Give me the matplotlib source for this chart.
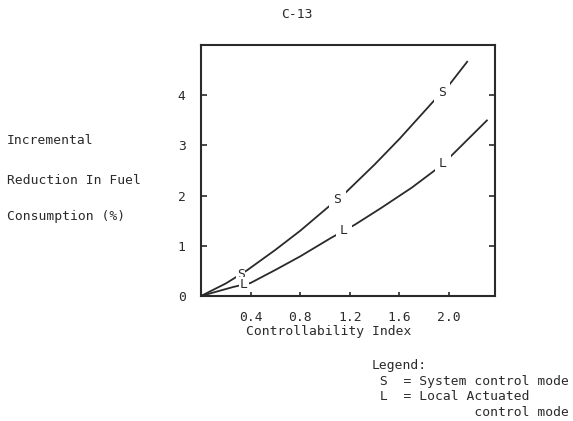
import numpy as np
import matplotlib
matplotlib.use("Agg")
import matplotlib.pyplot as plt

# Controllability index vs. incremental fuel-consumption reduction (%)
s_x = [0.0, 0.20, 0.37, 0.60, 0.80, 1.01, 1.17, 1.40, 1.60, 1.90, 1.98, 2.15]
s_y = [0.0, 0.25, 0.51, 0.92, 1.30, 1.74, 2.07, 2.62, 3.13, 3.95, 4.14, 4.68]

l_x = [0.0, 0.26, 0.40, 0.60, 0.80, 1.05, 1.24, 1.45, 1.70, 1.91, 2.00, 2.31]
l_y = [0.0, 0.18, 0.26, 0.52, 0.79, 1.16, 1.42, 1.75, 2.16, 2.55, 2.75, 3.51]

# where the curve letters sit along each line
s_label_x = [0.32, 1.10, 1.94]
l_label_x = [0.345, 1.15, 1.95]

x_ticks = [0.4, 0.8, 1.2, 1.6, 2.0]
x_tick_labels = ["0.4", "0.8", "1.2", "1.6", "2.0"]
y_ticks = [0, 1, 2, 3, 4]
y_tick_labels = ["0", "1", "2", "3", "4"]

ylabel_lines = ["Incremental", "Reduction In Fuel", "Consumption (%)"]
legend_lines = ["Legend:",
                " S  = System control mode",
                " L  = Local Actuated",
                "             control mode"]

W, H = 573, 421
INK = "#2a2a2a"
MONO = "DejaVu Sans Mono"
FS = 9.4

fig = plt.figure(figsize=(W / 100, H / 100), dpi=100)
ax = fig.add_axes([201 / W, 1 - 296 / H, (495 - 201) / W, (296 - 45) / H])


def fx(px):
    return px / W


def fy(py):
    return 1 - py / H


ax.plot(s_x, s_y, color=INK, lw=1.3, solid_capstyle="butt")
ax.plot(l_x, l_y, color=INK, lw=1.3, solid_capstyle="butt")

for i, lx in enumerate(s_label_x):
    ax.text(lx, np.interp(lx, s_x, s_y), "S", family=MONO, fontsize=FS,
            color=INK, ha="center", va="center", zorder=5,
            bbox=dict(facecolor="white", edgecolor="none",
                      pad=0.6 if i == 0 else 3.0))
for i, lx in enumerate(l_label_x):
    ax.text(lx, np.interp(lx, l_x, l_y), "L", family=MONO, fontsize=FS,
            color=INK, ha="center", va="center", zorder=5,
            bbox=dict(facecolor="white", edgecolor="none",
                      pad=0.6 if i == 0 else 3.0))

ax.set_xlim(0, 2.37)
ax.set_ylim(0, 5.0)

ax.set_xticks(x_ticks)
ax.set_xticklabels(x_tick_labels, family=MONO, fontsize=FS, color=INK)
ax.set_yticks(y_ticks)
ax.set_yticklabels(y_tick_labels, family=MONO, fontsize=FS, color=INK)
ax.tick_params(axis="x", direction="in", length=3, width=1.2, color=INK,
               pad=11, top=False)
ax.tick_params(axis="y", direction="in", length=4, width=1.2, color=INK,
               pad=11, right=True, labelright=False)

for sp in ax.spines.values():
    sp.set_color(INK)
    sp.set_linewidth(1.5)

fig.text(fx(297), fy(15), "C-13", family=MONO, fontsize=FS, color=INK,
         ha="center", va="center")

for text, py in zip(ylabel_lines, [141, 181, 216]):
    fig.text(fx(7), fy(py), text, family=MONO, fontsize=FS, color=INK,
             ha="left", va="center")

fig.text(fx(329), fy(331), "Controllability Index", family=MONO, fontsize=FS,
         color=INK, ha="center", va="center")

for text, py in zip(legend_lines, [365, 381, 397, 413]):
    fig.text(fx(372), fy(py), text, family=MONO, fontsize=FS, color=INK,
             ha="left", va="center")

fig.savefig("out.png", dpi=100, facecolor="white")
